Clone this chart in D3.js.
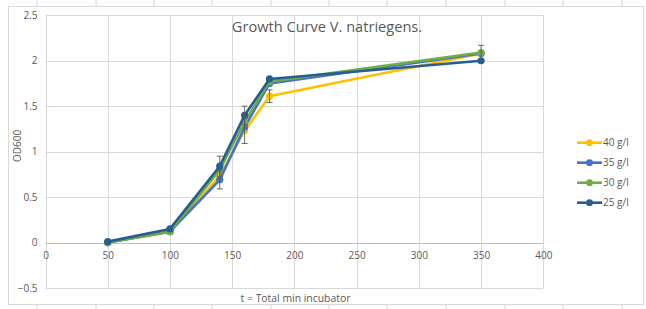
<!DOCTYPE html>
<html>
<head>
<meta charset="utf-8">
<script src="https://cdn.jsdelivr.net/npm/d3@7"></script>
<style>
  body { margin: 0; background: #fff; }
  text { font-family: "Open Sans", sans-serif; fill: #595959; }
</style>
</head>
<body>
<div id="chart"></div>
<script>
// data
var times = [50, 100, 140, 160, 180, 350];
var seriesNames = ["40 g/l", "35 g/l", "30 g/l", "25 g/l"];
var od40 = [0, 0.12, 0.73, 1.23, 1.61, 2.08];
var od35 = [0, 0.12, 0.69, 1.27, 1.75, 2.08];
var od30 = [0, 0.12, 0.80, 1.33, 1.77, 2.09];
var od25 = [0.01, 0.15, 0.84, 1.40, 1.80, 2.00];
var err40 = [0, 0, 0, 0.14, 0.07, 0];
var err35 = [0, 0, 0.10, 0, 0, 0];
var err30 = [0, 0, 0, 0, 0, 0.08];
var err25 = [0, 0, 0.11, 0.10, 0, 0];
var xTicks = [0, 50, 100, 150, 200, 250, 300, 350, 400];
var yTicks = [-0.5, 0, 0.5, 1, 1.5, 2, 2.5];
var colors = ["#ffc000", "#4472c4", "#70ad47", "#255e91"];

var W = 646, H = 309;
var svg = d3.select("#chart").append("svg")
    .attr("width", W)
    .attr("height", H);

// spreadsheet cells behind the chart
var cellX = [37, 96, 154, 212, 271, 329, 387, 446, 505, 563, 622];
svg.selectAll(".cell")
    .data(cellX)
    .enter()
    .append("line")
    .attr("x1", d => d).attr("x2", d => d)
    .attr("y1", 0).attr("y2", H)
    .attr("stroke", "#d4d4d4");

// chart area
svg.append("rect")
    .attr("x", 8.5).attr("y", 6.5)
    .attr("width", 635).attr("height", 298)
    .attr("fill", "#fff")
    .attr("stroke", "#d9d9d9");

var x = d3.scaleLinear().domain([0, 400]).range([45.5, 543.3]);
var y = d3.scaleLinear().domain([-0.5, 2.5]).range([288, 15.3]);

//gridlines
var grid = svg.append("g");
grid.selectAll(".gx")
    .data(xTicks)
    .enter()
    .append("line")
    .attr("x1", d => Math.round(x(d)) + 0.5).attr("x2", d => Math.round(x(d)) + 0.5)
    .attr("y1", y(2.5)).attr("y2", y(-0.5))
    .attr("stroke", "#d9d9d9");
grid.selectAll(".gy")
    .data(yTicks)
    .enter()
    .append("line")
    .attr("x1", x(0)).attr("x2", x(400))
    .attr("y1", d => Math.round(y(d)) + 0.5).attr("y2", d => Math.round(y(d)) + 0.5)
    .attr("stroke", d => d == 0 ? "#bfbfbf" : "#d9d9d9");

// axes labels (excel style, x labels sit under the zero line)
var xAxis = d3.axisBottom(x).tickValues(xTicks).tickSize(0).tickPadding(9);
var gX = svg.append("g")
    .attr("transform", "translate(0," + y(0) + ")")
    .call(xAxis);
gX.select(".domain").remove();
gX.selectAll("text").attr("font-size", 10).attr("fill", "#595959").style("font-family", "Open Sans");

var yAxis = d3.axisLeft(y).tickValues(yTicks).tickSize(0).tickPadding(8).tickFormat(d3.format("~g"));
var gY = svg.append("g")
    .attr("transform", "translate(" + x(0) + ",0)")
    .call(yAxis);
gY.select(".domain").remove();
gY.selectAll("text").attr("font-size", 10).attr("fill", "#595959").style("font-family", "Open Sans");

svg.append("text")
    .attr("x", 327)
    .attr("y", 31.5)
    .attr("text-anchor", "middle")
    .attr("font-size", 14.6)
    .text("Growth Curve V. natriegens.");

svg.append("text")
    .attr("transform", "translate(21,146) rotate(-90)")
    .attr("text-anchor", "middle")
    .attr("font-size", 10)
    .text("OD600");

svg.append("text")
    .attr("x", 295.5)
    .attr("y", 301.5)
    .attr("text-anchor", "middle")
    .attr("font-size", 10.4)
    .text("t = Total min incubator");

// series
var allVals = [od40, od35, od30, od25];
var allErr = [err40, err35, err30, err25];
var series = seriesNames.map(function (name, i) {
    return {
        name: name,
        color: colors[i],
        points: times.map(function (t, j) {
            return { t: t, v: allVals[i][j], e: allErr[i][j] };
        })
    };
});

var line = d3.line().x(d => x(d.t)).y(d => y(d.v));

var sg = svg.append("g").selectAll("g")
    .data(series)
    .enter()
    .append("g");
sg.append("path")
    .attr("d", d => line(d.points))
    .attr("fill", "none")
    .attr("stroke", d => d.color)
    .attr("stroke-width", 2.6)
    .attr("stroke-linejoin", "round");
sg.selectAll("circle")
    .data(d => d.points.map(p => ({ t: p.t, v: p.v, c: d.color })))
    .enter()
    .append("circle")
    .attr("cx", d => x(d.t))
    .attr("cy", d => y(d.v))
    .attr("r", 3.6)
    .attr("fill", d => d.c);

// error bars
var errs = [];
series.forEach(function (s) {
    s.points.forEach(function (p) { if (p.e > 0) errs.push(p); });
});
var eg = svg.append("g").attr("stroke", "#595959").attr("stroke-width", 0.9);
errs.forEach(function (p) {
    var cx = x(p.t);
    eg.append("line").attr("x1", cx).attr("x2", cx).attr("y1", y(p.v - p.e)).attr("y2", y(p.v + p.e));
    eg.append("line").attr("x1", cx - 3).attr("x2", cx + 3).attr("y1", y(p.v - p.e)).attr("y2", y(p.v - p.e));
    eg.append("line").attr("x1", cx - 3).attr("x2", cx + 3).attr("y1", y(p.v + p.e)).attr("y2", y(p.v + p.e));
});

// legend
var lg = svg.append("g").selectAll("g")
    .data(series)
    .enter()
    .append("g")
    .attr("transform", (d, i) => "translate(577," + (142.7 + i * 20) + ")");
lg.append("line")
    .attr("x1", 0).attr("x2", 25)
    .attr("stroke", d => d.color)
    .attr("stroke-width", 2.6);
lg.append("circle")
    .attr("cx", 12.5)
    .attr("r", 3.4)
    .attr("fill", d => d.color);
lg.append("text")
    .attr("x", 26)
    .attr("dy", "0.35em")
    .attr("font-size", 10)
    .text(d => d.name);
</script>
</body>
</html>
